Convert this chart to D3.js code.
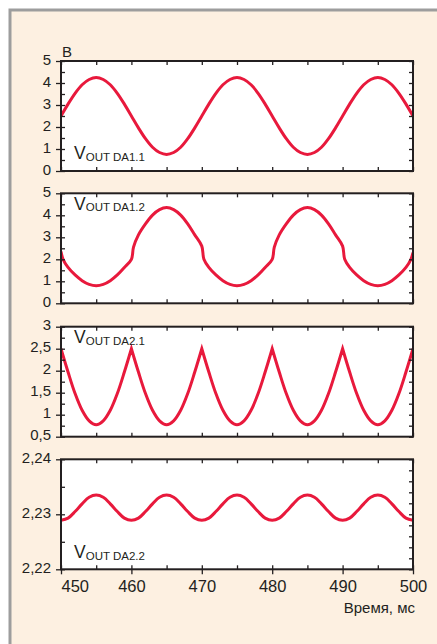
<!DOCTYPE html>
<html>
<head>
<meta charset="utf-8">
<script src="https://cdn.jsdelivr.net/npm/d3@7.9.0/dist/d3.min.js"></script>
<style>
  body { margin: 0; background: #fff; }
  svg text { font-family: "Liberation Sans Narrow", "Arial Narrow", "Liberation Sans", sans-serif; fill: #231f20; }
</style>
</head>
<body>
<svg id="chart" width="437" height="644"></svg>
<script>
// time axis (ms)
const timeTicks = [450, 460, 470, 480, 490, 500];
const sampleTime = d3.range(450, 501, 1);

// VOUT DA1.1, В
const da11 = [
  2.50, 3.04, 3.53, 3.92, 4.16, 4.25, 4.16, 3.92, 3.53, 3.04,
  2.50, 1.96, 1.47, 1.08, 0.84, 0.75, 0.84, 1.08, 1.47, 1.96,
  2.50, 3.04, 3.53, 3.92, 4.16, 4.25, 4.16, 3.92, 3.53, 3.04,
  2.50, 1.96, 1.47, 1.08, 0.84, 0.75, 0.84, 1.08, 1.47, 1.96,
  2.50, 3.04, 3.53, 3.92, 4.16, 4.25, 4.16, 3.92, 3.53, 3.04,
  2.50
];

// VOUT DA1.2 (own time points, kinks every 10 ms)
const da12Time = [
  450, 450.3, 451, 452, 453, 454, 455, 456, 457, 458, 459, 460,
  460.3, 461, 462, 463, 464, 465, 466, 467, 468, 469, 470,
  470.3, 471, 472, 473, 474, 475, 476, 477, 478, 479, 480,
  480.3, 481, 482, 483, 484, 485, 486, 487, 488, 489, 490,
  490.3, 491, 492, 493, 494, 495, 496, 497, 498, 499, 499.7, 500
];
const da12 = [
  2.35, 2.00, 1.63, 1.29, 1.03, 0.86, 0.80, 0.86, 1.03, 1.29, 1.63, 2.00,
  2.55, 3.11, 3.61, 4.01, 4.26, 4.35, 4.26, 4.01, 3.61, 3.11, 2.60,
  2.00, 1.63, 1.29, 1.03, 0.86, 0.80, 0.86, 1.03, 1.29, 1.63, 2.00,
  2.55, 3.11, 3.61, 4.01, 4.26, 4.35, 4.26, 4.01, 3.61, 3.11, 2.60,
  2.00, 1.63, 1.29, 1.03, 0.86, 0.80, 0.86, 1.03, 1.29, 1.63, 2.00, 2.30
];

// VOUT DA2.1 (cusps at 450, 460, ... 500)
const da21 = [
  2.50, 1.97, 1.48, 1.10, 0.86, 0.77, 0.86, 1.10, 1.48, 1.97,
  2.50, 1.97, 1.48, 1.10, 0.86, 0.77, 0.86, 1.10, 1.48, 1.97,
  2.50, 1.97, 1.48, 1.10, 0.86, 0.77, 0.86, 1.10, 1.48, 1.97,
  2.50, 1.97, 1.48, 1.10, 0.86, 0.77, 0.86, 1.10, 1.48, 1.97,
  2.50, 1.97, 1.48, 1.10, 0.86, 0.77, 0.86, 1.10, 1.48, 1.97,
  2.50
];
const da21Cusps = [460, 470, 480, 490];

// VOUT DA2.2
const da22 = [
  2.2289, 2.2293, 2.2305, 2.2319, 2.2331, 2.2335, 2.2331, 2.2319, 2.2305, 2.2293,
  2.2289, 2.2293, 2.2305, 2.2319, 2.2331, 2.2335, 2.2331, 2.2319, 2.2305, 2.2293,
  2.2289, 2.2293, 2.2305, 2.2319, 2.2331, 2.2335, 2.2331, 2.2319, 2.2305, 2.2293,
  2.2289, 2.2293, 2.2305, 2.2319, 2.2331, 2.2335, 2.2331, 2.2319, 2.2305, 2.2293,
  2.2289, 2.2293, 2.2305, 2.2319, 2.2331, 2.2335, 2.2331, 2.2319, 2.2305, 2.2293,
  2.2289
];

// y ticks per panel
const ticks11 = [0, 1, 2, 3, 4, 5];
const ticks12 = [0, 1, 2, 3, 4, 5];
const ticks21 = [0.5, 1, 1.5, 2, 2.5, 3];
const ticks22 = [2.22, 2.23, 2.24];

const panelLabels = ['DA1.1', 'DA1.2', 'DA2.1', 'DA2.2'];

const red = '#e8193c';
const ink = '#231f20';

const svg = d3.select('#chart');

// background frame
svg.append('rect').attr('x', 10).attr('y', 10).attr('width', 440).attr('height', 650)
  .attr('fill', '#fdf0e1').attr('stroke', '#9d9d9d').attr('stroke-width', 3);

const left = 61, right = 413, ph = 110;
const panelTops = [61, 193.3, 326.7, 459.3];

const x = d3.scaleLinear().domain([450, 500]).range([0, right - left]);
const fmt = d3.formatLocale({ decimal: ',', thousands: ' ', grouping: [3], currency: ['', ''] }).format('.3~r');

const smooth = d3.curveCatmullRom.alpha(0.5);
const panels = [
  { time: sampleTime, values: da11, domain: [0, 5], ticks: ticks11, minor: 0.5, cusps: [], labelY: 98.3 },
  { time: da12Time, values: da12, domain: [0, 5], ticks: ticks12, minor: 0.5, cusps: [], labelY: 16.7 },
  { time: sampleTime, values: da21, domain: [0.5, 3], ticks: ticks21, minor: 0.25, cusps: da21Cusps, labelY: 16.6 },
  { time: sampleTime, values: da22, domain: [2.22, 2.24], ticks: ticks22, minor: 0.005, cusps: [], labelY: 99 },
];

function plain(g) {
  g.select('.domain').remove();
  g.selectAll('.tick line').attr('stroke', ink).attr('stroke-width', 1.3);
}

panels.forEach((p, i) => {
  const g = svg.append('g').attr('transform', `translate(${left},${panelTops[i]})`);
  const y = d3.scaleLinear().domain(p.domain).range([ph, 0]);

  g.append('rect').attr('width', right - left).attr('height', ph).attr('fill', '#fff');

  g.append('clipPath').attr('id', 'clip' + i)
    .append('rect').attr('width', right - left).attr('height', ph);

  const line = d3.line()
    .x(d => x(d[0]))
    .y(d => y(d[1]))
    .curve(smooth);

  // split at cusps so each arch is smooth and the cusps stay sharp
  const pts = p.time.map((t, k) => [t, p.values[k]]);
  const pieces = [];
  let cur = [];
  pts.forEach(pt => {
    cur.push(pt);
    if (p.cusps.includes(pt[0])) { pieces.push(cur); cur = [pt]; }
  });
  pieces.push(cur);
  const d = pieces.map((s, j) => j ? line(s).replace(/^M/, 'L') : line(s)).join('');

  g.append('path')
    .attr('clip-path', `url(#clip${i})`)
    .attr('fill', 'none')
    .attr('stroke', red)
    .attr('stroke-width', 3)
    .attr('stroke-linejoin', 'miter')
    .attr('stroke-miterlimit', 10)
    .attr('d', d);

  const [lo, hi] = p.domain;
  const minorTicks = d3.range(lo, hi + p.minor / 2, p.minor);
  const rightTicks = d3.range(0, 11).map(k => lo + (hi - lo) * k / 10);
  const fiveMs = d3.range(450, 501, 5);

  // left: labels with outward ticks
  g.append('g')
    .call(d3.axisLeft(y).tickValues(p.ticks).tickSize(5).tickPadding(5).tickFormat(fmt))
    .call(plain)
    .call(a => a.selectAll('text')
      .attr('font-size', 15).attr('fill', ink).attr('dy', '0.2em'));

  // left: inward ticks
  g.append('g')
    .call(d3.axisRight(y).tickValues(minorTicks).tickSize(4).tickFormat(''))
    .call(plain);

  // right: inward ticks
  g.append('g').attr('transform', `translate(${right - left},0)`)
    .call(d3.axisLeft(y).tickValues(rightTicks).tickSize(4).tickFormat(''))
    .call(plain);

  // top and bottom: inward ticks every 5 ms
  g.append('g')
    .call(d3.axisBottom(x).tickValues(fiveMs).tickSize(4).tickFormat(''))
    .call(plain);
  g.append('g').attr('transform', `translate(0,${ph})`)
    .call(d3.axisTop(x).tickValues(fiveMs).tickSize(4).tickFormat(''))
    .call(plain);

  // frame
  g.append('rect').attr('width', right - left).attr('height', ph)
    .attr('fill', 'none').attr('stroke', ink).attr('stroke-width', 2);

  // series label
  const t = g.append('text').attr('x', 13).attr('y', p.labelY).attr('font-size', 17.5);
  t.append('tspan').text('V');
  t.append('tspan').attr('font-size', 11.5).attr('dy', 1.4).text('OUT ' + panelLabels[i]);

  if (i === 0) {
    g.append('text').attr('x', 1).attr('y', -4.5).attr('font-size', 15).text('В');
  }

  if (i === panels.length - 1) {
    g.append('g').attr('transform', `translate(0,${ph})`)
      .call(d3.axisBottom(x).tickValues(timeTicks).tickSize(5).tickPadding(6).tickFormat(d3.format('d')))
      .call(plain)
      .call(a => a.selectAll('text').attr('font-size', 16.5).attr('fill', ink)
        .attr('text-anchor', d => d === 450 ? 'start' : 'middle'));
    g.append('text').attr('x', right - left + 2).attr('y', ph + 43.5)
      .attr('text-anchor', 'end').attr('font-size', 15).text('Время, мс');
  }
});
</script>
</body>
</html>
